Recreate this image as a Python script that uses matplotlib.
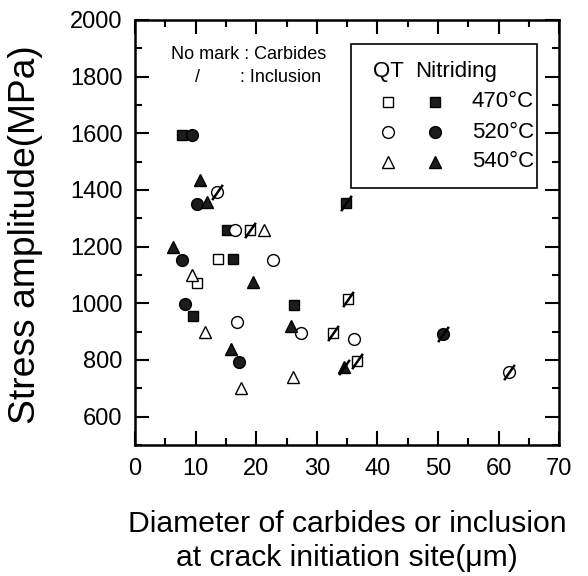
import matplotlib
matplotlib.use('Agg')
import matplotlib.pyplot as plt
from matplotlib.path import Path
from matplotlib.patches import Rectangle

plt.rcParams['font.family'] = ['Liberation Sans', 'DejaVu Sans']

# QT 470 (open square), 1 = inclusion (slash mark)
qt470_x = [13.7, 10.2, 18.9, 35.2, 32.6, 36.7]
qt470_y = [1155, 1073, 1259, 1014, 894, 797]
qt470_inc = [0, 0, 1, 1, 1, 1]
# Nitriding 470 (filled square)
n470_x = [7.7, 15.1, 16.1, 26.3, 9.5, 34.8]
n470_y = [1594, 1259, 1155, 994, 955, 1353]
n470_inc = [0, 0, 0, 0, 0, 1]
# QT 520 (open circle)
qt520_x = [16.5, 22.8, 16.9, 27.4, 36.1, 13.5, 61.7]
qt520_y = [1259, 1153, 933, 894, 874, 1394, 756]
qt520_inc = [0, 0, 0, 0, 0, 1, 1]
# Nitriding 520 (filled circle)
n520_x = [9.4, 10.3, 7.8, 8.3, 17.1, 50.8]
n520_y = [1594, 1349, 1153, 996, 794, 890]
n520_inc = [0, 0, 0, 0, 0, 1]
# QT 540 (open triangle)
qt540_x = [21.3, 9.4, 11.6, 26.1, 17.5]
qt540_y = [1259, 1100, 900, 741, 700]
qt540_inc = [0, 0, 0, 0, 0]
# Nitriding 540 (filled triangle)
n540_x = [10.8, 11.8, 6.3, 19.4, 25.7, 15.8, 34.5]
n540_y = [1435, 1359, 1198, 1076, 920, 839, 776]
n540_inc = [0, 0, 0, 0, 0, 0, 1]

temps = ['470\u00b0C', '520\u00b0C', '540\u00b0C']

fig = plt.figure(figsize=(5.88, 5.76), dpi=100)
ax = fig.add_axes([0.2296, 0.2274, 0.7216, 0.738])

dark = '#1c1c1c'
slash = Path([(-0.42, -0.6), (0.42, 0.6)])

series = [
    (qt470_x, qt470_y, qt470_inc, 's', 'white'),
    (n470_x, n470_y, n470_inc, 's', dark),
    (qt520_x, qt520_y, qt520_inc, 'o', 'white'),
    (n520_x, n520_y, n520_inc, 'o', dark),
    (qt540_x, qt540_y, qt540_inc, '^', 'white'),
    (n540_x, n540_y, n540_inc, '^', dark),
]
for xs, ys, inc, m, fc in series:
    ms = 7.5 if m == 's' else 8.5
    ax.plot(xs, ys, ls='none', marker=m, ms=ms, mfc=fc, mec='black', mew=1.0)
    sx = [x for x, i in zip(xs, inc) if i]
    sy = [y for y, i in zip(ys, inc) if i]
    if sx:
        ax.plot(sx, sy, ls='none', marker=slash, ms=11, mec='black', mew=1.8)

ax.set_xlim(0, 70)
ax.set_ylim(500, 2000)
ax.set_xticks(range(0, 71, 10))
ax.set_xticks(range(5, 70, 10), minor=True)
ax.set_yticks(range(600, 2001, 200))
ax.set_yticks(range(500, 2000, 200), minor=True)
ax.tick_params(which='both', direction='in', top=True, right=True, width=1.5, labelsize=17)
ax.tick_params(which='major', length=10, pad=9)
ax.tick_params(which='minor', length=5)
for s in ax.spines.values():
    s.set_linewidth(1.8)

ax.set_ylabel('Stress amplitude(MPa)', fontsize=26.8)
ax.yaxis.set_label_coords(-0.217, 0.495)
ax.set_xlabel('Diameter of carbides or inclusion\nat crack initiation site(\u03bcm)',
              fontsize=21.7, linespacing=1.25, labelpad=22)

ax.text(0.085, 0.918, 'No mark : Carbides', transform=ax.transAxes, fontsize=13, va='center')
ax.text(0.141, 0.864, '/', transform=ax.transAxes, fontsize=13, va='center')
ax.text(0.247, 0.864, ': Inclusion', transform=ax.transAxes, fontsize=13, va='center')

# legend box drawn by hand: QT (open) and Nitriding (filled) columns
ax.add_patch(Rectangle((0.509, 0.605), 0.438, 0.3385, transform=ax.transAxes,
                       fill=False, ec='black', lw=1.2, zorder=5))
ax.text(0.561, 0.878, 'QT', transform=ax.transAxes, fontsize=16, va='center')
ax.text(0.660, 0.878, 'Nitriding', transform=ax.transAxes, fontsize=16, va='center')
rows_y = [0.807, 0.736, 0.666]
for k, (m, t, yy) in enumerate(zip(['s', 'o', '^'], temps, rows_y)):
    ms = 7.5 if m == 's' else 8.5
    ax.plot([0.596], [yy], transform=ax.transAxes, ls='none', marker=m, ms=ms,
            mfc='white', mec='black', mew=1.0, clip_on=False)
    ax.plot([0.707], [yy], transform=ax.transAxes, ls='none', marker=m, ms=ms,
            mfc=dark, mec='black', mew=1.0, clip_on=False)
    ax.text(0.794, yy, t, transform=ax.transAxes, fontsize=16, va='center')

plt.savefig('out.png', dpi=100)
